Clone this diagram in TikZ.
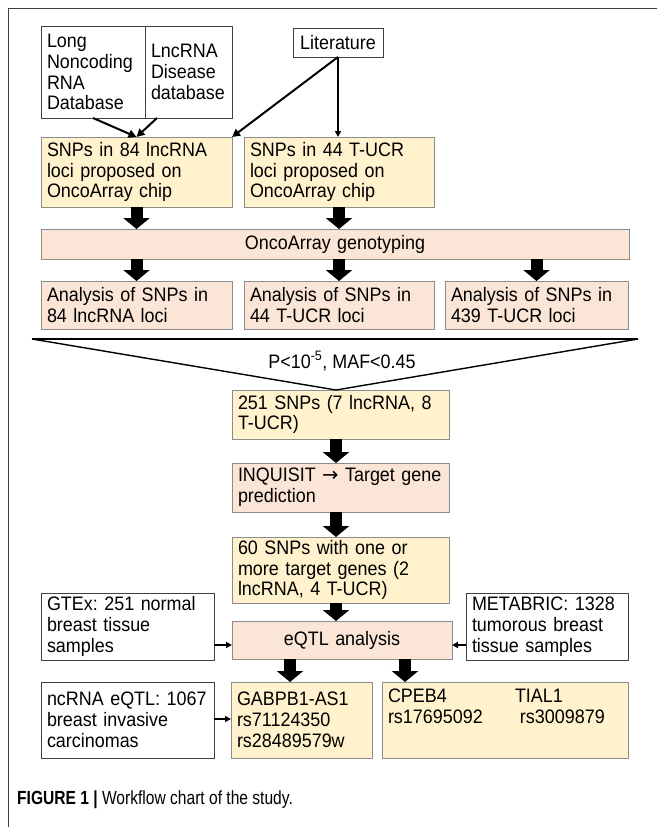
\documentclass[tikz,border=0pt]{standalone}
\usepackage{fontspec}
\setmainfont[FakeStretch=0.92]{Liberation Sans}
\newfontfamily\capfont[FakeStretch=0.82]{Liberation Sans}
\newfontfamily\arrfont{DejaVu Sans}
\usetikzlibrary{arrows.meta,calc}
\frenchspacing
\definecolor{ylw}{HTML}{FFF2CC}
\definecolor{pnk}{HTML}{FBE5D6}
\definecolor{bgray}{HTML}{8C8C8C}
\definecolor{dgray}{HTML}{404040}
\newcommand{\mybx}[7]{%
 \pgfmathsetmacro\mybw{#4-#2}%
 \pgfmathsetmacro\mybh{#5-#3}%
 \pgfmathsetmacro\mytw{#4-#2-12}%
 \node[#6, anchor=north west, minimum width=\mybw pt, minimum height=\mybh pt, text width=\mytw pt] (#1) at (#2,#3) {#7};}
\tikzset{
 boxbase/.style={draw, line width=0.9pt, inner xsep=6pt, inner ysep=0pt, outer sep=0pt,
   font=\fontsize{19.5}{20.8}\selectfont, align=left},
 wbox/.style={boxbase, draw=dgray, fill=white},
 ybox/.style={boxbase, draw=bgray, fill=ylw},
 pbox/.style={boxbase, draw=bgray, fill=pnk},
 tarr/.style={line width=2pt, -{Triangle[length=8pt,width=8pt]}},
 sarr/.style={line width=1.5pt, -{Triangle[length=6pt,width=6pt]}},
 barr/.style={line width=12pt, -{Triangle[length=11pt,width=26pt]}},
}
\begin{document}
\begin{tikzpicture}[x=1pt,y=-1pt]
\useasboundingbox (0,0) rectangle (657,827);
% frame
\draw[dgray, line width=1pt] (8,827) -- (8,8) -- (657,8);
% top boxes
\mybx{lnrd}{41}{26}{145}{118}{wbox}{Long\\Noncoding\\RNA\\Database}
\mybx{lncdis}{145}{26}{232}{118}{wbox}{LncRNA\\Disease\\database}
\mybx{lit}{293}{28}{383}{57}{wbox,align=center}{Literature}
\mybx{snpa}{41}{137}{232}{207}{ybox}{SNPs in 84 lncRNA\\loci proposed on\\OncoArray chip}
\mybx{snpb}{244}{137}{434}{207}{ybox}{SNPs in 44 T-UCR\\loci proposed on\\OncoArray chip}
\mybx{onco}{41}{229}{629}{259}{pbox,align=center}{OncoArray genotyping}
\mybx{ana}{41}{281}{232}{329}{pbox}{Analysis of SNPs in\\84 lncRNA loci}
\mybx{anb}{244}{281}{434}{329}{pbox}{Analysis of SNPs in\\44 T-UCR loci}
\mybx{anc}{445}{281}{628}{329}{pbox}{Analysis of SNPs in\\439 T-UCR loci}
\mybx{sa}{232}{390}{449}{439}{ybox}{251 SNPs (7 lncRNA, 8\\T-UCR)}
\mybx{inq}{232}{463}{449}{512}{pbox}{INQUISIT {\arrfont →} Target gene\\prediction}
\mybx{sb}{232}{537}{449}{603}{ybox}{60 SNPs with one or\\more target genes (2\\lncRNA, 4 T-UCR)}
\mybx{gtex}{41}{593}{214}{660}{wbox}{GTEx: 251 normal\\breast tissue\\samples}
\mybx{metab}{466}{593}{628}{660}{wbox}{METABRIC: 1328\\tumorous breast\\tissue samples}
\mybx{eqtl}{232}{621}{452}{659}{pbox,align=center}{eQTL analysis}
\mybx{ncrna}{41}{682}{214}{758}{wbox}{ncRNA eQTL: 1067\\breast invasive\\carcinomas}
\mybx{gab}{231}{682}{372}{758}{ybox}{GABPB1-AS1\\rs71124350\\rs28489579w}
\mybx{cpeb}{382}{682}{628}{758}{ybox}{\makebox[127pt][l]{CPEB4}TIAL1\\\makebox[132pt][l]{rs17695092}rs3009879\\\strut}
% thin arrows at top
\draw[tarr] (lnrd.south) -- (snpa.north);
\draw[tarr] ([xshift=12pt]lncdis.south west) -- (snpa.north);
\draw[tarr] (lit.south) -- (snpa.north east);
\draw[sarr] (lit.south) -- (lit.south |- snpb.north);
% block arrows
\draw[barr] (snpa.south) -- (snpa.south |- onco.north);
\draw[barr] (snpb.south) -- (snpb.south |- onco.north);
\draw[barr] (onco.south -| ana.north) -- (ana.north);
\draw[barr] (onco.south -| anb.north) -- (anb.north);
\draw[barr] (onco.south -| anc.north) -- (anc.north);
% funnel
\coordinate (cx) at (336,0);
\coordinate (fl) at (32,339);
\coordinate (fr) at (638,339);
\coordinate (fa) at (sa.north -| cx);
\draw[line width=1.4pt, line join=round] (fl) -- (fa) -- (fr);
\draw[line width=2pt] (fl) -- (fr);
\node[font=\fontsize{19.5}{20.8}\selectfont] (pt) at (342,361) {P<10\textsuperscript{-5}, MAF<0.45};
\draw[barr] (sa.south -| cx) -- (inq.north -| cx);
\draw[barr] (inq.south -| cx) -- (sb.north -| cx);
\draw[barr] (sb.south -| cx) -- (eqtl.north -| cx);
% side arrows
\coordinate (ay) at (0,645);
\draw[sarr] (gtex.east |- ay) -- (eqtl.west |- ay);
\draw[sarr] (metab.west |- ay) -- (eqtl.east |- ay);
\coordinate (by) at (0,719);
\draw[sarr] (ncrna.east |- by) -- (gab.west |- by);
\coordinate (ga) at (290,0);
\coordinate (gb) at (405,0);
\draw[barr] (eqtl.south -| ga) -- (gab.north -| ga);
\draw[barr] (eqtl.south -| gb) -- (cpeb.north -| gb);
% caption
\node[anchor=west, inner sep=0pt, font=\capfont\fontsize{19}{21}\selectfont] (cap) at (17,800)
  {\textbf{FIGURE 1 |} Workflow chart of the study.};
\end{tikzpicture}
\end{document}
